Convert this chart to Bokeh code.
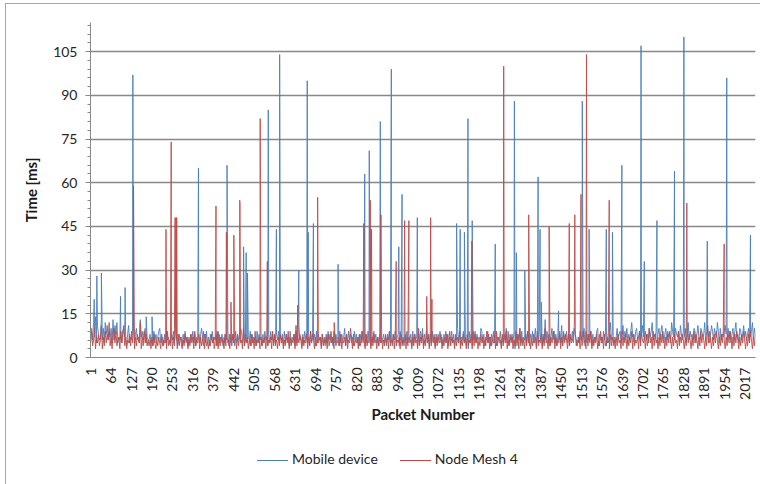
import numpy as np
from bokeh.plotting import figure
from bokeh.models import FixedTicker, Range1d, Div
from bokeh.layouts import column
from bokeh.embed import file_html
from bokeh.resources import INLINE

# ---------------- data ----------------
N_PACKETS = 2048
series_names = ["Mobile device", "Node Mesh 4"]
x_tick_labels = [1, 64, 127, 190, 253, 316, 379, 442, 505, 568, 631, 694, 757, 820,
                 883, 946, 1009, 1072, 1135, 1198, 1261, 1324, 1387, 1450, 1513, 1576,
                 1639, 1702, 1765, 1828, 1891, 1954, 2017]
y_ticks = [0, 15, 30, 45, 60, 75, 90, 105]
y_minor = list(range(0, 115, 3))

# baseline delay (ms, hex digit per sample) read as an envelope of the noise band
mobile_baseline = """
9a6c7e5b86 7d6a5c8b69 7a5d6b8c57 6859a7648b 5769c58a67 5d7968a576
6857495867 9a56748596 7548695a74 5867485967 4758695847 6958a74859
5748695768 4957684758 6948576849 5768a95746 8576948567 4958674859
6748596857 4869576849 5867495768 4958b67485 9675849576 8495867485
7485968574 9586749586 7a48596857 4968574859 6748596847 5968574895
6857486957 4869578496 5748695768 4958674859 6a48596748 5968475869
5748695847 6958476a58 4769584739 5847695867 6a95847695 7486958476
6947586a59 4768593748 6a59476859 7486957a48 5967485d69 5847a69584
7695b48769 5847695a86 4759687a49 5867948576 9a48675968 4759c68475
7a68958b69 7a5869c785 9a67958b76 9685a79c68 7958a69b75 8a69785c97
6a8795b869 7a58c69786 a958b76a97 8c69a758b9 6a87c95a68 79b86a7958
a69c785a96 8b7968a579 c6a8
"""
mesh_baseline = """
5946a37584 6b3749586c 4738a59467 3958b47365 8495a37486 5c37495846
4637485364 7538465739 4658374a63 8475364857 3648573946 5837469384
5364857364 9384756384 7563948576 3847563a48 5736485739 4657384657
3846573948 5637485736 4859374658 3b47586374 6583749586 3748567384
6573846957 3846574836 5748365a73 8465738469 5738465739 4856374857
3648573946 5837465738 4659374856 3748563a47 5836475839 4657384756
8364758369 4756384759 3648573846 5739485736 4857364958 3746583947
5638475936 4857364958 3a47563849 5736485739 4658374a56 3847569374
6583749586 3748567b84 6573849563 7485936475 8364957384 6593847563
7485639475 8364759384 6573948657 3846a57394 8563748596 3748596374
8563947586 3749586374 9586374958 6374b59637 4859637485 9637485963
7485963748 5963748596 3748
"""

# delay spikes (packet number, ms)
mobile_spike_pkt = [12, 20, 34, 93, 107, 131, 172, 190, 333, 421, 472, 480, 484, 548, 573,
                    583, 642, 668, 671, 687, 763, 845, 859, 893, 927, 950, 960, 1007, 1128,
                    1139, 1152, 1163, 1176, 1247, 1306, 1312, 1338, 1379, 1385, 1389, 1442,
                    1515, 1536, 1589, 1608, 1637, 1696, 1706, 1745, 1799, 1828, 1900, 1960,
                    2033]
mobile_spike_ms = [20, 28, 29, 21, 24, 97, 14, 14, 65, 66, 38, 36, 29, 85, 44,
                   104, 30, 95, 43, 46, 32, 63, 71, 81, 99, 38, 56, 48, 46,
                   44, 43, 82, 47, 39, 88, 36, 30, 62, 44, 19, 16,
                   88, 44, 44, 43, 66, 107, 33, 47, 64, 110, 40, 96,
                   42]
mesh_spike_pkt = [133, 233, 249, 261, 264, 266, 387, 419, 433, 442, 460, 461, 523, 545,
                  639, 700, 751, 842, 862, 866, 895, 942, 968, 981, 1036, 1048, 1052,
                  1175, 1273, 1350, 1413, 1475, 1492, 1511, 1528, 1598, 1837, 1952]
mesh_spike_ms = [59, 44, 74, 48, 48, 48, 52, 43, 19, 42, 54, 53, 82, 33,
                 18, 55, 12, 46, 54, 44, 49, 33, 47, 47, 21, 48, 20,
                 40, 100, 49, 45, 46, 49, 56, 104, 54, 53, 39]


def build_series(baseline, spike_pkt, spike_ms):
    vals = [int(c, 16) for c in "".join(baseline.split())]
    xs = [float(v) for v in np.linspace(1, N_PACKETS, len(vals))]
    pts = list(zip(xs, vals)) + [(float(a), b) for a, b in zip(spike_pkt, spike_ms)]
    pts.sort(key=lambda t: t[0])
    return [t[0] for t in pts], [float(t[1]) for t in pts]


bx, by = build_series(mobile_baseline, mobile_spike_pkt, mobile_spike_ms)
rx, ry = build_series(mesh_baseline, mesh_spike_pkt, mesh_spike_ms)

BLUE = "#4a7ebb"
RED = "#be4b48"
GRID = "#888888"
FONT = "Lato"

p = figure(width=752, height=440, output_backend="svg", toolbar_location=None,
           x_range=Range1d(0.5, N_PACKETS + 0.5), y_range=Range1d(0, 115),
           min_border_left=84, min_border_top=18, min_border_right=3,
           min_border_bottom=87)
p.outline_line_color = None

rb = p.line(bx, by, line_color=BLUE, line_width=1, line_alpha=0.9)
rr = p.line(rx, ry, line_color=RED, line_width=1, line_alpha=0.9)

p.xgrid.visible = False
p.ygrid.grid_line_color = GRID
p.ygrid.grid_line_width = 1.5
p.ygrid.ticker = FixedTicker(ticks=y_ticks[1:])

p.yaxis.ticker = FixedTicker(ticks=y_ticks, minor_ticks=y_minor)
p.xaxis.ticker = FixedTicker(ticks=x_tick_labels)
p.xaxis.major_label_orientation = np.pi / 2

for ax in (p.xaxis[0], p.yaxis[0]):
    ax.axis_line_color = GRID
    ax.major_tick_line_color = GRID
    ax.minor_tick_line_color = GRID
    ax.major_label_text_font = FONT
    ax.major_label_text_font_size = "14px"
    ax.major_label_text_color = "#262626"
    ax.axis_label_text_font = FONT
    ax.axis_label_text_font_size = "15px"
    ax.axis_label_text_font_style = "bold"
    ax.axis_label_text_color = "#1a1a1a"
    ax.major_tick_in = 0
    ax.minor_tick_in = 0

p.yaxis.major_tick_out = 5
p.yaxis.minor_tick_out = 3
p.yaxis.major_label_standoff = 8
p.yaxis.axis_label = "Time [ms]"
p.yaxis.axis_label_standoff = 10

p.xaxis.major_tick_out = 0
p.xaxis.minor_tick_out = 0
p.xaxis.major_label_standoff = 10
p.xaxis.axis_label = "Packet Number"
p.xaxis.axis_label_standoff = 2

# legend (HTML, below the plot)
swatch = ('<span style="display:inline-block;width:31px;height:1px;'
          'background-color:{c};vertical-align:middle;margin-right:4px"></span>')
items_html = []
for i, (name, col) in enumerate(zip(series_names, [BLUE, RED])):
    gap = "margin-left:22px;" if i else ""
    items_html.append(f'<span style="{gap}white-space:nowrap">'
                      + swatch.format(c=col) + name + '</span>')
legend_div = Div(text=(f'<div style="font-family:Lato;font-size:14px;color:#262626;'
                       f'line-height:20px;padding-left:246px;white-space:nowrap">'
                       + "".join(items_html) + '</div>'),
                 width=752, height=37)

layout = column(p, legend_div, spacing=0,
                styles={"border": "1px solid #a6a6a6", "margin-left": "5px",
                        "margin-top": "3px"})

open("out.html", "w").write(file_html(layout, INLINE))
